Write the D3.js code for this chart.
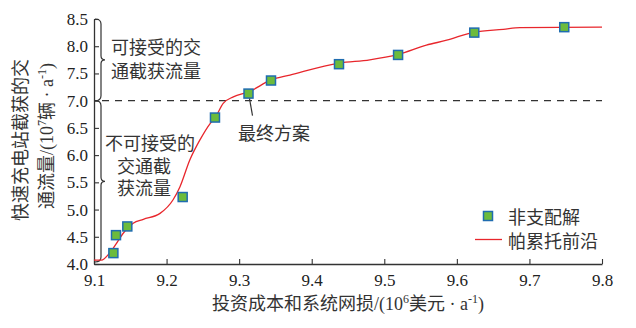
<!DOCTYPE html>
<html>
<head>
<meta charset="utf-8">
<script src="https://cdn.jsdelivr.net/npm/d3@7"></script>
<style>
  html, body { margin: 0; padding: 0; background: #fff; }
  svg { display: block; }
</style>
</head>
<body>
<svg id="chart" width="636" height="328"></svg>
<script>
// Non-dominated solutions: cost (10^6 USD/a) and intercepted flow (10^7 veh/a)
const solCost = [9.1267, 9.1303, 9.1459, 9.2222, 9.2667, 9.3129, 9.3439, 9.4376, 9.5190, 9.6240, 9.7480];
const solFlow = [4.20, 4.53, 4.69, 5.23, 6.69, 7.13, 7.37, 7.67, 7.84, 8.25, 8.35];

// Pareto front curve
const paretoCost = [9.100, 9.110, 9.122, 9.131, 9.140, 9.154, 9.168, 9.191, 9.209, 9.2185, 9.232, 9.246, 9.260, 9.267, 9.278, 9.292, 9.313, 9.344, 9.370, 9.438, 9.480, 9.519, 9.558, 9.586, 9.624, 9.664, 9.687, 9.800];
const paretoFlow = [4.07, 4.07, 4.21, 4.38, 4.56, 4.75, 4.82, 4.93, 5.18, 5.42, 5.91, 6.28, 6.58, 6.69, 6.95, 7.07, 7.16, 7.38, 7.47, 7.69, 7.75, 7.85, 8.02, 8.11, 8.26, 8.31, 8.34, 8.35];

const xTicks = [9.1, 9.2, 9.3, 9.4, 9.5, 9.6, 9.7, 9.8];
const yTicks = [4.0, 4.5, 5.0, 5.5, 6.0, 6.5, 7.0, 7.5, 8.0, 8.5];
const threshold = 7.0;

const svg = d3.select("#chart");
const m = { left: 94, right: 34, top: 19, bottom: 64 };
const W = 636, H = 328;

const x = d3.scaleLinear().domain([9.1, 9.8]).range([m.left, W - m.right]);
const y = d3.scaleLinear().domain([4.0, 8.5]).range([H - m.bottom, m.top]);

const serif = "'Liberation Serif', 'Times New Roman', 'Noto Sans CJK SC', serif";
const cjk = "'Liberation Serif', 'Noto Sans CJK SC', sans-serif";
const axisColor = "#333";

// axes, ticks pointing inward
const xAxis = svg.append("g")
  .attr("transform", `translate(0,${H - m.bottom})`)
  .call(d3.axisBottom(x).tickValues(xTicks).tickSizeInner(-5).tickSizeOuter(0)
    .tickFormat(d3.format(".1f")).tickPadding(10));
const yAxis = svg.append("g")
  .attr("transform", `translate(${m.left},0)`)
  .call(d3.axisLeft(y).tickValues(yTicks).tickSizeInner(-5).tickSizeOuter(0)
    .tickFormat(d3.format(".1f")).tickPadding(10));

[xAxis, yAxis].forEach(g => {
  g.select(".domain").attr("stroke", axisColor).attr("stroke-width", 1.3);
  g.selectAll(".tick line").attr("stroke", axisColor).attr("stroke-width", 1.1);
  g.selectAll(".tick text").attr("font-family", serif).attr("font-size", 17).attr("fill", "#222");
});
xAxis.selectAll(".tick text").attr("dy", "0.71em");
yAxis.selectAll(".tick text").attr("dx", "4px");

// curly braces beside the y axis marking acceptable / unacceptable ranges
function brace(y0, y1, xb) {
  const ym = (y0 + y1) / 2;
  return `M${xb - 6},${y0} Q${xb},${y0} ${xb},${y0 + 5}` +
         ` L${xb},${ym - 4} Q${xb},${ym} ${xb + 4},${ym}` +
         ` Q${xb},${ym} ${xb},${ym + 4}` +
         ` L${xb},${y1 - 5} Q${xb},${y1} ${xb - 6},${y1}`;
}
const xb = x(9.1) + 7;
svg.append("path").attr("d", brace(y(8.5), y(threshold), xb))
  .attr("fill", "none").attr("stroke", axisColor).attr("stroke-width", 1.2);
svg.append("path").attr("d", brace(y(threshold), y(4.0) - 2, xb))
  .attr("fill", "none").attr("stroke", axisColor).attr("stroke-width", 1.2);

// acceptance threshold
svg.append("line")
  .attr("x1", x(9.1) + 8).attr("x2", x(9.8))
  .attr("y1", y(threshold)).attr("y2", y(threshold))
  .attr("stroke", "#333").attr("stroke-width", 1.3)
  .attr("stroke-dasharray", "7,6");

// Pareto front
const line = d3.line()
  .x((d, i) => x(paretoCost[i]))
  .y((d, i) => y(paretoFlow[i]))
  .curve(d3.curveMonotoneX);
svg.append("path")
  .datum(paretoCost)
  .attr("d", line)
  .attr("fill", "none").attr("stroke", "#e8262c").attr("stroke-width", 1.3);

// non-dominated solutions
const sq = 9;
svg.append("g").selectAll("rect")
  .data(solCost)
  .join("rect")
  .attr("x", (d) => x(d) - sq / 2)
  .attr("y", (d, i) => y(solFlow[i]) - sq / 2)
  .attr("width", sq).attr("height", sq)
  .attr("fill", "#6cbb3c").attr("stroke", "#1f6cb0").attr("stroke-width", 1.5);

// final scheme pointer
const fx = x(solCost[5]), fy = y(solFlow[5]);
svg.append("line")
  .attr("x1", fx + 1).attr("y1", fy + 5)
  .attr("x2", fx + 4).attr("y2", fy + 22)
  .attr("stroke", "#333").attr("stroke-width", 1.2);

function label(txt, xx, yy, anchor) {
  svg.append("text").attr("x", xx).attr("y", yy)
    .attr("font-family", cjk).attr("font-size", 18).attr("fill", "#333")
    .attr("text-anchor", anchor || "start").text(txt);
}
label("最终方案", 238, 140);
label("可接受的交", 111, 54);
label("通截获流量", 111, 78);
label("不可接受的", 105, 150);
label("交通截", 144, 173, "middle");
label("获流量", 144, 195, "middle");

// legend
const lg = svg.append("g");
lg.append("rect").attr("x", 488 - sq / 2).attr("y", 216 - sq / 2)
  .attr("width", sq).attr("height", sq)
  .attr("fill", "#6cbb3c").attr("stroke", "#1f6cb0").attr("stroke-width", 1.5);
lg.append("line").attr("x1", 475).attr("x2", 502).attr("y1", 239.5).attr("y2", 239.5)
  .attr("stroke", "#e8262c").attr("stroke-width", 1.3);
label("非支配解", 508, 224);
label("帕累托前沿", 508, 248);

// axis titles with superscripts
function titled(g, parts) {
  const t = g.append("text").attr("font-family", cjk).attr("font-size", 18)
    .attr("fill", "#333").attr("text-anchor", "middle");
  parts.forEach(p => {
    const s = t.append("tspan").text(p.t);
    if (p.sup) s.attr("font-size", 12).attr("baseline-shift", "super");
  });
  return t;
}
titled(svg.append("g").attr("transform", `translate(348,310)`), [
  { t: "投资成本和系统网损/(10" }, { t: "6", sup: true },
  { t: "美元 · a" }, { t: "-1", sup: true }, { t: ")" }
]);
titled(svg.append("g").attr("transform", `translate(27,140) rotate(-90)`), [
  { t: "快速充电站截获的交" }
]);
titled(svg.append("g").attr("transform", `translate(53,136) rotate(-90)`), [
  { t: "通流量/(10" }, { t: "7", sup: true },
  { t: "辆 · a" }, { t: "-1", sup: true }, { t: ")" }
]);
</script>
</body>
</html>
